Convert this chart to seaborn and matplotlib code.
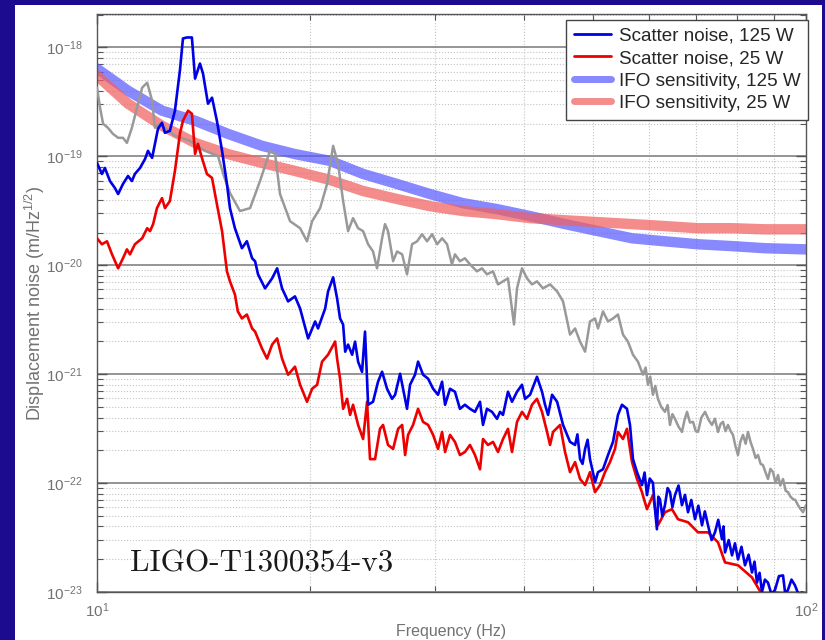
import matplotlib
matplotlib.use("Agg")
import numpy as np
import matplotlib.pyplot as plt
import seaborn as sns
from matplotlib.patches import Rectangle
from matplotlib.ticker import LogLocator, NullFormatter, FixedLocator

# Amplitude spectral densities are listed in units of 1e-21 m/sqrt(Hz)
ASD_UNIT = 1e-21

# Scatter noise projection, 125 W input power
freq_scatter_125w = [
    10.00, 10.16, 10.26, 10.43, 10.60, 10.71, 10.88, 11.06, 11.20, 11.31, 11.50, 11.69,
    11.80, 11.96, 12.07, 12.19, 12.35, 12.47, 12.67, 12.88, 13.09, 13.22, 13.39, 13.61,
    13.75, 13.97, 14.11, 14.34, 14.53, 14.76, 15.01, 15.25, 15.40, 15.65, 16.01, 16.27,
    16.55, 16.71, 16.87, 17.26, 17.66, 17.95, 18.24, 18.60, 19.02, 19.34, 19.85, 20.31,
    20.50, 20.98, 21.18, 21.53, 21.81, 22.02, 22.24, 22.39, 22.60, 22.90, 23.12, 23.35,
    23.65, 23.88, 24.12, 24.51, 24.91, 25.24, 25.65, 26.07, 26.33, 26.76, 27.02, 27.37,
    27.64, 28.09, 28.37, 28.83, 29.31, 29.79, 30.27, 30.67, 30.97, 31.47, 31.98, 32.50,
    33.03, 33.58, 34.13, 34.69, 35.03, 35.48, 36.07, 36.66, 37.02, 37.38, 37.99, 38.49,
    39.12, 39.76, 40.15, 40.81, 41.74, 42.43, 42.85, 43.27, 43.84, 44.56, 45.43, 46.47,
    47.24, 47.60, 48.01, 48.40, 48.80, 49.20, 49.58, 50.00, 50.40, 50.89, 51.72, 52.57,
    53.43, 54.30, 55.01, 55.91,
    56.46, 57.01, 57.76, 58.70, 59.20, 59.66, 60.20, 60.83, 61.20, 61.62, 61.90, 62.23,
    62.70, 63.25, 63.80, 64.29, 64.80, 65.34, 66.10, 66.84, 67.50, 68.17, 68.90, 69.74,
    70.50, 71.34, 72.00, 72.74, 73.60, 74.41, 75.20, 76.12, 76.50, 76.87, 77.80, 78.64,
    79.40, 80.18, 81.10, 82.03, 83.00, 83.91, 84.60, 85.28, 86.00, 86.68, 87.50, 88.38,
    89.40, 90.44, 91.60, 92.81, 93.50, 94.32, 95.40, 96.49, 97.60, 98.71, 100.0,
]
asd_scatter_125w = [
    87.1, 69.0, 78.3, 59.4, 51.2, 45.1, 55.8, 66.1, 59.4, 69.0, 78.3, 94.8,
    112.4, 96.9, 130.4, 179.3, 203.5, 164.6, 171.8, 262.7, 613.8, 1210, 1236, 1236,
    518, 712, 575.8, 304.7, 346, 212.5, 112.4, 55.8, 33.5, 21.9, 14.35, 16.63,
    11.6, 10.89, 8.26, 6.14, 7.59, 9.38, 6.14, 4.66, 5.18, 4.01, 2.13, 3.05,
    2.63, 4.01, 5.76, 7.75, 4.96, 3.25, 2.86, 1.61, 1.87, 1.51, 1.99, 1.30,
    1.05, 2.46, 0.524, 0.558, 0.853, 1.054, 0.735, 0.594, 0.647, 1.01, 0.735, 0.481,
    0.80, 0.99, 1.304, 0.99, 0.909, 0.735, 0.647, 0.853, 0.524, 0.735, 0.690, 0.481,
    0.524, 0.481, 0.451, 0.558, 0.342, 0.481, 0.451, 0.389, 0.451, 0.423, 0.690, 0.558,
    0.690, 0.80, 0.594, 0.647, 0.947, 0.690, 0.524, 0.423, 0.647, 0.558, 0.342, 0.239,
    0.224, 0.28, 0.166, 0.15, 0.206, 0.25, 0.166, 0.13, 0.102, 0.126, 0.134, 0.181,
    0.239, 0.423, 0.524, 0.481,
    0.342, 0.166, 0.126, 0.0959, 0.125, 0.0775, 0.11, 0.1008, 0.06, 0.0377, 0.075, 0.0712,
    0.05, 0.0627, 0.09, 0.0826, 0.06, 0.0775, 0.095, 0.0627, 0.078, 0.054, 0.07, 0.0466,
    0.062, 0.041, 0.055, 0.041, 0.030, 0.0353, 0.046, 0.0305, 0.040, 0.0231, 0.030, 0.0217,
    0.028, 0.0199, 0.026, 0.0176, 0.022, 0.0151, 0.019, 0.0122, 0.015, 0.0100, 0.013, 0.0122,
    0.0095, 0.0105, 0.014, 0.0142, 0.0095, 0.0105, 0.013, 0.0115, 0.0095, 0.0099, 0.0095,
]

# Scatter noise projection, 25 W input power
freq_scatter_25w = [
    10.00, 10.16, 10.33, 10.50, 10.71, 10.88, 11.02, 11.13, 11.31, 11.58, 11.77, 11.88,
    12.00, 12.15, 12.35, 12.47, 12.67, 12.88, 13.09, 13.22, 13.44, 13.61, 13.75, 13.88,
    14.06, 14.29, 14.53, 14.76, 15.01, 15.25, 15.40, 15.65, 15.80, 16.01, 16.27, 16.55,
    16.71, 17.09, 17.37, 17.66, 17.95, 18.24, 18.60, 19.02, 19.34, 19.78, 20.11, 20.44,
    20.77, 21.18, 21.67, 21.81, 22.02, 22.24, 22.53, 22.75, 22.97, 23.35, 23.73, 24.04,
    24.27, 24.67, 25.07, 25.32, 25.73, 26.16, 26.59, 26.94, 27.20, 27.46, 27.91, 28.37,
    28.83, 29.31, 29.79, 30.27, 30.67, 30.97, 31.47, 31.98, 32.50, 33.03, 33.58, 34.13,
    34.69, 35.03, 35.60, 36.19, 36.78, 37.38, 37.99, 38.49, 39.12, 39.76, 40.41, 41.07,
    41.74, 42.43, 43.13, 43.55, 43.98, 44.99, 45.72, 46.47, 47.24, 48.01, 48.80, 49.58,
    50.40, 51.22, 52.06, 52.91, 53.78, 54.30, 55.19, 55.91, 56.83, 57.76, 58.70, 59.66,
    60.83, 61.82, 63.25, 64.71, 65.98, 68.17, 70.42, 72.74, 75.14, 76.87, 80.18, 83.91,
    86.68, 90.44, 94.32, 98.00,
]
asd_scatter_25w = [
    17.7, 15.6, 16.6, 12.6, 9.38, 11.6, 14.0, 12.6, 15.6, 17.7, 21.9, 20.6,
    23.9, 33.5, 41.4, 33.5, 38.9, 73.5, 161.2, 212.5, 262.7, 246.4, 105.4, 130.4,
    96.9, 69.0, 63.4, 36.5, 20.6, 8.80, 7.12, 5.40, 3.77, 3.25, 3.53, 2.63,
    2.46, 1.72, 1.39, 1.87, 2.13, 1.39, 0.989, 1.172, 0.80, 0.558, 0.735, 0.80,
    1.304, 1.512, 1.993, 1.390, 0.909, 0.481, 0.594, 0.423, 0.524, 0.342, 0.254, 0.558,
    0.166, 0.166, 0.315, 0.342, 0.224, 0.206, 0.315, 0.342, 0.181, 0.277, 0.342, 0.481,
    0.365, 0.342, 0.277, 0.206, 0.295, 0.193, 0.277, 0.239, 0.181, 0.193, 0.224, 0.181,
    0.134, 0.254, 0.224, 0.239, 0.193, 0.254, 0.315, 0.193, 0.365, 0.451, 0.389, 0.524,
    0.594, 0.451, 0.295, 0.224, 0.295, 0.342, 0.193, 0.126, 0.156, 0.109, 0.0959, 0.126,
    0.0826, 0.0959, 0.126, 0.156, 0.206, 0.295, 0.254, 0.315, 0.156, 0.109, 0.0826, 0.0576,
    0.0775, 0.041, 0.054, 0.0576, 0.0466, 0.0437, 0.0353, 0.0353, 0.0286, 0.0187, 0.0176, 0.0136,
    0.0095, 0.0099, 0.0095, 0.0093,
]

# Grey reference trace (no legend entry)
freq_reference = [
    10.00, 10.10, 10.20, 10.36, 10.53, 10.71, 10.88, 11.02, 11.20, 11.39, 11.58, 11.77,
    11.96, 12.07, 12.27, 12.88, 13.52, 14.20, 14.81, 15.10, 15.40, 15.91, 16.44, 16.98,
    17.54, 17.83, 18.12, 18.72, 19.34, 19.78, 20.11, 20.64, 21.11, 21.53, 21.88, 22.24,
    22.60, 22.97, 23.35, 23.73, 24.12, 24.51, 24.83, 25.24, 25.48, 25.73, 26.16, 26.50,
    26.94, 27.37, 27.82, 28.28, 28.74, 29.21, 29.69, 30.18, 30.67, 31.17, 31.67, 31.98,
    32.50, 33.03, 33.58, 34.35, 34.91, 35.48, 36.19, 36.78, 37.38, 37.99, 38.74, 39.12,
    39.76, 40.41, 41.07, 41.74, 42.57, 43.55, 44.56, 45.43, 46.47, 47.24, 48.01, 48.80,
    49.58, 50.40, 50.89, 51.72, 52.57, 53.43, 54.30, 55.19, 56.09, 57.01, 57.95, 58.89,
    59.40, 59.85, 60.30, 60.83, 61.30, 61.82, 62.50, 63.25, 63.80, 64.29, 64.80, 65.34,
    66.10, 66.84, 67.40, 67.95, 68.60, 69.29, 69.90, 70.42, 71.20, 72.04, 72.90, 73.68,
    74.40, 75.14, 75.80, 76.37, 77.00, 77.62, 78.30, 78.89, 79.50, 80.18, 80.80, 81.50,
    82.20, 82.83, 83.50, 84.18, 84.90, 85.56, 86.30, 86.96, 87.70, 88.38, 89.10, 89.85,
    90.60, 91.31, 92.00, 92.81, 93.60, 94.32, 95.10, 95.87, 96.60, 97.43, 98.20, 99.03,
    100.0,
]
asd_reference = [
    427.8, 279.9, 199.3, 183.1, 161.2, 148.1, 148.1, 133.1, 183.1, 279.9, 427.8, 475.6,
    324.8, 183.1, 199.3, 154.5, 138.9, 112.4, 101.0, 66.1, 46.1, 31.5, 33.5, 59.4,
    112.4, 105.4, 45.1, 25.4, 21.9, 16.6, 25.4, 33.5, 55.8, 124.9, 85.3, 38.9,
    20.6, 27.1, 21.9, 20.6, 15.6, 13.4, 9.38, 17.7, 23.9, 20.6, 10.9, 13.4,
    12.6, 8.26, 15.6, 16.6, 19.3, 16.6, 19.3, 15.6, 17.7, 15.6, 10.2, 12.6,
    10.9, 11.6, 10.2, 8.80, 9.38, 8.26, 8.80, 6.68, 7.12, 7.59, 2.86, 6.14,
    9.38, 7.59, 6.68, 7.12, 6.14, 6.68, 5.76, 4.66, 2.31, 2.63, 1.99, 1.61,
    3.05, 3.25, 2.63, 3.77, 3.05, 3.25, 3.53, 2.31, 1.99, 1.51, 1.30, 0.99,
    1.15, 0.80, 0.95, 0.647, 0.78, 0.594, 0.50, 0.451, 0.52, 0.342, 0.43, 0.389,
    0.33, 0.295, 0.38, 0.451, 0.36, 0.365, 0.30, 0.295, 0.40, 0.451, 0.38, 0.342,
    0.39, 0.295, 0.35, 0.365, 0.30, 0.342, 0.30, 0.277, 0.22, 0.181, 0.24, 0.277,
    0.23, 0.295, 0.24, 0.206, 0.17, 0.181, 0.15, 0.1465, 0.125, 0.109, 0.135, 0.126,
    0.10, 0.1185, 0.095, 0.109, 0.085, 0.0826, 0.075, 0.0712, 0.07, 0.0627, 0.058, 0.054,
    0.0627,
]

# Interferometer sensitivity curves
freq_ifo = [
    10.00, 11.06, 12.35, 13.75, 15.30, 17.09, 19.02, 21.32, 23.73, 26.50, 29.50,
    32.82, 36.66, 40.81, 45.72, 50.89, 56.83, 63.25, 70.42, 78.64, 87.52, 100.0,
]
asd_ifo_125w = [
    640, 401, 263, 212.5, 161, 125, 105, 90.9, 69.0, 55.8, 45.1,
    37.2, 32.8, 28.3, 23.9, 20.6, 17.7, 16.6, 15.6, 15.0, 14.35, 14.0,
]
asd_ifo_25w = [
    552, 304.7, 191, 133, 105, 87.1, 73.5, 60.7, 48.1, 40.6, 34.9,
    31.5, 29.5, 27.1, 25.9, 24.9, 23.9, 22.9, 21.9, 21.9, 21.4, 21.4,
]

legend_labels = [
    "Scatter noise, 125 W",
    "Scatter noise, 25 W",
    "IFO sensitivity, 125 W",
    "IFO sensitivity, 25 W",
]
y_ticks = [1e-23, 1e-22, 1e-21, 1e-20, 1e-19, 1e-18]
x_ticks = [10, 100]
stamp_text = "LIGO-T1300354-v3"

sns.set_theme(style="ticks")
plt.rcParams["font.family"] = ["Liberation Sans", "DejaVu Sans"]
plt.rcParams["mathtext.fontset"] = "custom"
plt.rcParams["mathtext.rm"] = "Liberation Sans"
plt.rcParams["mathtext.it"] = "Liberation Sans:italic"

W, H = 825, 640
fig = plt.figure(figsize=(W / 100, H / 100), dpi=100, facecolor="#1d0b8f")
# white slide panel behind the axes
panel = Rectangle((15 / W, 0), (822 - 15) / W, (H - 5) / H,
                  transform=fig.transFigure, facecolor="white",
                  edgecolor="none", zorder=-10)
fig.patches.append(panel)

ax_left, ax_right, ax_top, ax_bottom = 97, 806, 14, 592
ax = fig.add_axes([ax_left / W, 1 - ax_bottom / H,
                   (ax_right - ax_left) / W, (ax_bottom - ax_top) / H])
ax.set_facecolor("white")

def to_si(values):
    return np.asarray(values) * ASD_UNIT

sns.lineplot(x=freq_ifo, y=to_si(asd_ifo_125w), ax=ax, color="#5a5aff", lw=7.5,
             alpha=0.72, label=legend_labels[2], estimator=None, sort=False, zorder=2)
sns.lineplot(x=freq_ifo, y=to_si(asd_ifo_25w), ax=ax, color="#f06060", lw=7.5,
             alpha=0.72, label=legend_labels[3], estimator=None, sort=False, zorder=2)
sns.lineplot(x=freq_reference, y=to_si(asd_reference), ax=ax, color="#999999", lw=1.8,
             estimator=None, sort=False, zorder=3)
sns.lineplot(x=freq_scatter_25w, y=to_si(asd_scatter_25w), ax=ax, color="#ee0000", lw=1.9,
             label=legend_labels[1], estimator=None, sort=False, zorder=4)
sns.lineplot(x=freq_scatter_125w, y=to_si(asd_scatter_125w), ax=ax, color="#0000e6", lw=1.9,
             label=legend_labels[0], estimator=None, sort=False, zorder=5)

ax.set_xscale("log")
ax.set_yscale("log")
ax.set_xlim(10, 100)
ax.set_ylim(1e-23, 2.03e-18)

ax.yaxis.set_major_locator(FixedLocator(y_ticks))
ax.xaxis.set_major_locator(FixedLocator(x_ticks))
ax.yaxis.set_minor_locator(LogLocator(base=10, subs=np.arange(2, 10), numticks=12))
ax.xaxis.set_minor_locator(LogLocator(base=10, subs=np.arange(2, 10), numticks=12))
ax.xaxis.set_minor_formatter(NullFormatter())
ax.yaxis.set_minor_formatter(NullFormatter())

ax.grid(which="major", axis="y", ls="-", color="#8c8c8c", lw=1.3, zorder=1)
ax.grid(which="minor", ls=":", color="#c4c4c4", lw=0.8, zorder=1)
ax.set_axisbelow(True)

label_color = "#727272"
ax.tick_params(which="both", direction="in", top=True, right=True,
               colors="#555555", labelcolor=label_color, labelsize=11)
ax.tick_params(which="major", length=7, width=1)
ax.tick_params(which="minor", length=4, width=0.8)
ax.tick_params(axis="x", pad=7)
ax.tick_params(axis="y", pad=10)
for s in ax.spines.values():
    s.set_color("#555555")
    s.set_linewidth(1.0)

ax.set_xlabel("Frequency (Hz)", fontsize=11.5, color=label_color, labelpad=3)
ax.set_ylabel("Displacement noise (m/Hz$^{1/2}$)", fontsize=13, color=label_color)
ax.yaxis.set_label_coords(-0.071, 0.5)

handles, labels = ax.get_legend_handles_labels()
order = [labels.index(lab) for lab in legend_labels]
leg = ax.legend([handles[i] for i in order], [labels[i] for i in order],
                loc="upper right", bbox_to_anchor=(1.003, 0.99), borderaxespad=0,
                fontsize=13.6, frameon=True, fancybox=False, framealpha=1,
                edgecolor="#444444", handlelength=1.95, handletextpad=0.42,
                labelspacing=0.28, borderpad=0.4)
leg.get_frame().set_linewidth(1.0)
for line, lw in zip(leg.get_lines(), [2.0, 2.0, 5.0, 5.0]):
    line.set_linewidth(lw)
leg.set_zorder(10)

ax.text(0.0465, 0.035, stamp_text, transform=ax.transAxes, family="cmr10",
        fontsize=22.4, color="#1a1a1a", ha="left", va="baseline", zorder=6)

fig.savefig("out.png", dpi=100, facecolor=fig.get_facecolor())
